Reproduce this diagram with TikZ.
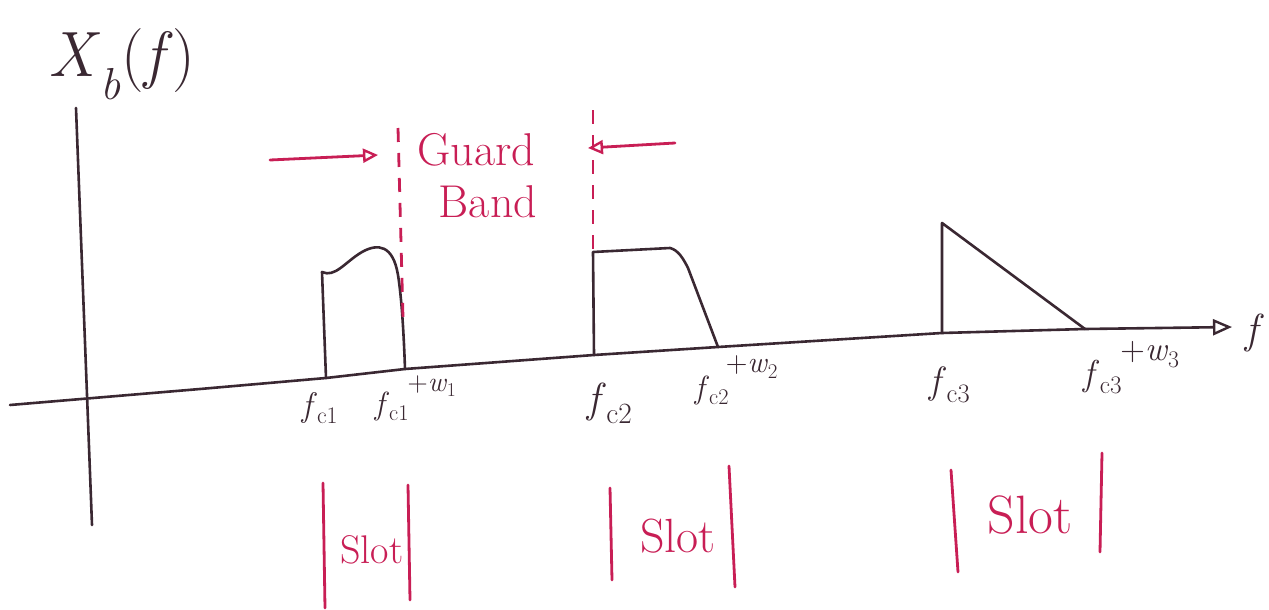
\documentclass[tikz,border=0pt]{standalone}
\usepackage{fontspec}
\usetikzlibrary{arrows.meta}
\definecolor{inkc}{RGB}{58,40,50}
\definecolor{penc}{RGB}{200,30,85}
\newcommand{\fs}[1]{\textit{f}\textsubscript{#1}}
\newcommand{\pw}[1]{+\textit{w}\textsubscript{#1}}
\begin{document}
\begin{tikzpicture}[x=1pt,y=-1pt,
  ink/.style={draw=inkc, line width=2.6pt, line cap=round, line join=round},
  redpen/.style={draw=penc, line width=2.8pt, line cap=round},
  lbl/.style={inner sep=0pt, text=inkc},
  rtxt/.style={inner sep=0pt, text=penc},
  bighead/.style={-{Triangle[open, length=19pt, width=16pt, line width=2.4pt]}},
  smallhead/.style={-{Triangle[open, length=15pt, width=14pt, line width=2.4pt]}},
  guarddash/.style={redpen, line cap=butt, dash pattern=on 14pt off 11pt}]
\useasboundingbox (0,0) rectangle (1269,610);
% frequency axis
\coordinate (a0) at (10,405);
\coordinate (a1) at (200,389);
\coordinate (c1) at (326,378);
\coordinate (e1) at (405,369);
\coordinate (c2) at (594,355);
\coordinate (e2) at (718,347);
\coordinate (c3) at (942,333);
\coordinate (e3) at (1085,329);
\coordinate (aend) at (1232,327);
\draw[ink, bighead] (a0) -- (a1) -- (c1) -- (e1) -- (c2) -- (e2) -- (c3) -- (e3) -- (aend);
% vertical axis
\coordinate (v0) at (76,108);
\coordinate (v1) at (92,525);
\draw[ink] (v0) -- (v1);
% pulse 1
\coordinate (p1a) at (322,272);
\coordinate (p1b) at (362,252);
\coordinate (p1c) at (398,275);
\draw[ink] (c1) -- (p1a) .. controls (335,278) and (345,262) .. (p1b)
  .. controls (378,243) and (393,245) .. (p1c)
  .. controls (402,300) and (404,340) .. (e1);
% pulse 2
\coordinate (p2a) at (593,252);
\coordinate (p2b) at (670,248);
\coordinate (p2c) at (688,268);
\draw[ink] (c2) -- (p2a) -- (p2b) .. controls (678,250) and (683,258) .. (p2c) -- (e2);
% pulse 3
\coordinate (p3a) at (942,223);
\draw[ink] (c3) -- (p3a) -- (e3);
% guard band lines
\coordinate (g1t) at (398,128);
\coordinate (g1b) at (403,318);
\coordinate (g2t) at (593,110);
\coordinate (g2b) at (593,250);
\draw[guarddash] (g1t) -- (g1b);
\draw[guarddash] (g2t) -- (g2b);
\coordinate (ga0) at (270,160);
\coordinate (ga1) at (378,155);
\coordinate (gb0) at (675,143);
\coordinate (gb1) at (588,148);
\draw[redpen, smallhead] (ga0) -- (ga1);
\draw[redpen, smallhead] (gb0) -- (gb1);
\node[rtxt, font=\fontsize{46}{46}\selectfont] (guard) at (476,150) {Guard};
\node[rtxt, font=\fontsize{46}{46}\selectfont] (band) at (488,202) {Band};
% labels
\node[lbl, font=\fontsize{64}{64}\selectfont] (xb) at (122,64) {\textit{X}\textsubscript{\textit{b}}(\textit{f})};
\node[lbl, font=\fontsize{34}{34}\selectfont] (lc1) at (320,408) {\fs{c1}};
\node[lbl, font=\fontsize{32}{32}\selectfont] (le1) at (392,406) {\fs{c1}};
\node[lbl, font=\fontsize{28}{28}\selectfont] (le1s) at (432,386) {\pw{1}};
\node[lbl, font=\fontsize{42}{42}\selectfont] (lc2) at (610,403) {\fs{c2}};
\node[lbl, font=\fontsize{32}{32}\selectfont] (le2) at (712,390) {\fs{c2}};
\node[lbl, font=\fontsize{30}{30}\selectfont] (le2s) at (752,367) {\pw{2}};
\node[lbl, font=\fontsize{38}{38}\selectfont] (lc3) at (950,385) {\fs{c3}};
\node[lbl, font=\fontsize{36}{36}\selectfont] (le3) at (1103,377) {\fs{c3}};
\node[lbl, font=\fontsize{34}{34}\selectfont] (le3s) at (1150,355) {\pw{3}};
\node[lbl, font=\fontsize{42}{42}\selectfont] (flab) at (1255,333) {\textit{f}};
% slots
\coordinate (s1a) at (323,483); \coordinate (s1b) at (325,608);
\coordinate (s1c) at (408,485); \coordinate (s1d) at (410,600);
\coordinate (s2a) at (610,488); \coordinate (s2b) at (612,580);
\coordinate (s2c) at (729,466); \coordinate (s2d) at (735,587);
\coordinate (s3a) at (951,470); \coordinate (s3b) at (958,572);
\coordinate (s3c) at (1102,453); \coordinate (s3d) at (1100,552);
\draw[redpen] (s1a) -- (s1b); \draw[redpen] (s1c) -- (s1d);
\draw[redpen] (s2a) -- (s2b); \draw[redpen] (s2c) -- (s2d);
\draw[redpen] (s3a) -- (s3b); \draw[redpen] (s3c) -- (s3d);
\node[rtxt, font=\fontsize{40}{40}\selectfont] (slot1) at (372,550) {Slot};
\node[rtxt, font=\fontsize{48}{48}\selectfont] (slot2) at (678,536) {Slot};
\node[rtxt, font=\fontsize{54}{54}\selectfont] (slot3) at (1030,515) {Slot};
\end{tikzpicture}
\end{document}
